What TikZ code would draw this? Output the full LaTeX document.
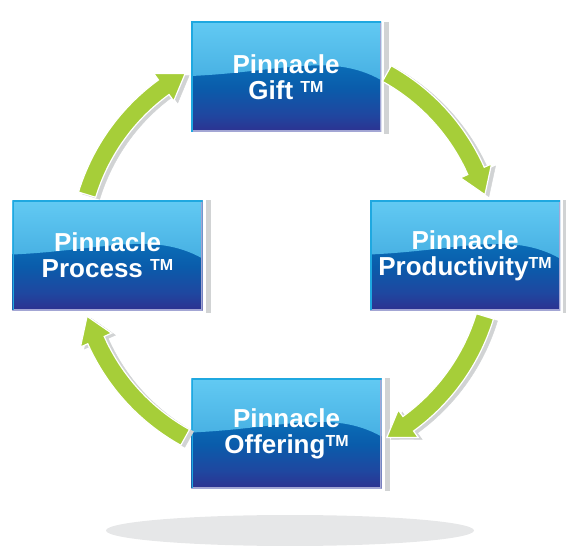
\documentclass[tikz,border=0pt]{standalone}
\usepackage{fontspec}
\setmainfont{Liberation Sans}
\usepackage{tikz}
\usetikzlibrary{calc}

\definecolor{pgreen}{HTML}{A6CE39}
\definecolor{pshadow}{HTML}{D1D3D4}
\definecolor{pfloor}{HTML}{E6E7E8}
\definecolor{pedge}{HTML}{1FA8E0}
\definecolor{plow}{HTML}{A3A6D4}
\definecolor{glosstop}{HTML}{62CAF3}
\definecolor{glossbot}{HTML}{2E98D4}
\definecolor{baseA}{HTML}{2D3190}
\definecolor{baseB}{HTML}{1F47A0}
\definecolor{baseC}{HTML}{0A5CAB}
\definecolor{baseD}{HTML}{0A6CB6}
\definecolor{baseE}{HTML}{1386CC}

\pgfdeclareverticalshading{pbase}{100bp}{color(0bp)=(baseA); color(25bp)=(baseA);
  color(33bp)=(baseB); color(45bp)=(baseC); color(55bp)=(baseD);
  color(75bp)=(baseE); color(100bp)=(baseE)}

% trade mark sign, raised to cap height
\newcommand{\tmark}{{\fontsize{16pt}{16pt}\selectfont\raisebox{7pt}{TM}}}

% #1 options, #2 centre, #3 tail angle
\newcommand{\cyclearrow}[3][]{%
  \filldraw[#1] ($(#2)+(#3:217)$) arc[start angle=#3, end angle=#3-37, radius=217]
    -- ($(#2)+(#3-37:225)$) -- ($(#2)+(#3-44:208)$) -- ($(#2)+(#3-37:191)$)
    -- ($(#2)+(#3-37:199)$) arc[start angle=#3-37, end angle=#3, radius=199] -- cycle;}

\begin{document}
\begin{tikzpicture}[x=1pt, y=1pt,
  pbox/.style={minimum width=190pt, minimum height=110pt, inner sep=0pt,
    shading=pbase, align=center, text=white,
    font=\bfseries\fontsize{26pt}{26pt}\selectfont,
    path picture={
      \shade[top color=glosstop, bottom color=glossbot]
        (path picture bounding box.north west)
        -- ([yshift=-54pt]path picture bounding box.north west)
        .. controls +(90pt,4pt) and +(-50pt,28pt) .. ([yshift=-58pt]path picture bounding box.north east)
        -- (path picture bounding box.north east) -- cycle;
      \draw[plow, line width=3pt] (path picture bounding box.south west)
        -- (path picture bounding box.south east) -- (path picture bounding box.north east);
      \draw[pedge, line width=3pt] (path picture bounding box.south west)
        -- (path picture bounding box.north west) -- (path picture bounding box.north east);
    }}]
  \useasboundingbox (0,0) rectangle (566,558);

  % floor shadow
  \fill[pfloor] (290,27.5) ellipse [x radius=184, y radius=15.5];

  % the four boxes
  \node[pbox] (gift)  at (286,481)     {Pinnacle\\Gift \tmark};
  \node[pbox] (prod)  at (465,302.5)   {Pinnacle\\Productivity\tmark};
  \node[pbox] (proc)  at (107.5,302.5) {Pinnacle\\Process \tmark};
  \node[pbox] (offer) at (286.5,124.5) {Pinnacle\\Offering\tmark};
  \foreach \n in {gift,prod,proc,offer}
    \fill[pshadow] ([xshift=3pt]\n.north east) rectangle ([xshift=8pt,yshift=-2pt]\n.south east);

  % cycle arrows
  \coordinate (ctr) at (gift |- proc);
  \coordinate (ctrs) at ($(ctr)+(4,-2)$);
  \foreach \a in {61,-17,-119,163} {
    \cyclearrow[pshadow]{ctrs}{\a}
    \cyclearrow[pgreen, draw=white, line width=1.2pt]{ctr}{\a}
  }
\end{tikzpicture}
\end{document}
